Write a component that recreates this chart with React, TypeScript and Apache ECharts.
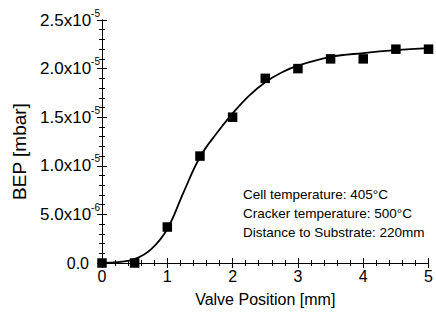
import React, { useEffect, useRef } from "react";
import * as echarts from "echarts";

const valvePositions = [0, 0.5, 1, 1.5, 2, 2.5, 3, 3.5, 4, 4.5, 5];
const bepValues = [0, 0, 3.7e-6, 1.1e-5, 1.5e-5, 1.9e-5, 2.0e-5, 2.1e-5, 2.1e-5, 2.2e-5, 2.2e-5];

const fitPositions = [0, 0.25, 0.5, 0.75, 1, 1.25, 1.5, 1.75, 2, 2.25, 2.5, 2.75, 3, 3.5, 4, 4.5, 5];
const fitValues = [0, 0.1e-6, 0.4e-6, 1.4e-6, 3.5e-6, 7.3e-6, 1.09e-5, 1.33e-5, 1.54e-5, 1.72e-5, 1.86e-5, 1.96e-5, 2.03e-5, 2.12e-5, 2.16e-5, 2.19e-5, 2.21e-5];

const yTickMantissa = ["0.0", "5.0x10", "1.0x10", "1.5x10", "2.0x10", "2.5x10"];
const yTickExponent = ["", "-6", "-5", "-5", "-5", "-5"];
const xTickLabels = ["0", "1", "2", "3", "4", "5"];

const annotationLines = [
  "Cell temperature: 405°C",
  "Cracker temperature: 500°C",
  "Distance to Substrate: 220mm",
];

const FONT = "Liberation Sans";

export default function App() {
  const ref = useRef<HTMLDivElement>(null);
  useEffect(() => {
    if (!ref.current) return;
    const chart = echarts.init(ref.current, undefined, { renderer: "svg" });
    const tickCommon = {
      axisLine: { show: true, lineStyle: { color: "#000", width: 1 } },
      axisTick: { show: true, inside: true, length: 5, lineStyle: { color: "#000" } },
      minorTick: { show: true, splitNumber: 5, length: 3, lineStyle: { color: "#000" } },
      splitLine: { show: false },
    };
    chart.setOption({
      animation: false,
      backgroundColor: "#fff",
      textStyle: { fontFamily: FONT },
      grid: { left: 102, right: 4, top: 20, bottom: 48 },
      xAxis: [
        {
          type: "value",
          min: 0,
          max: 5,
          interval: 1,
          position: "bottom",
          ...tickCommon,
          axisLabel: {
            margin: 5,
            color: "#000",
            fontSize: 16,
            fontFamily: FONT,
            formatter: (_v: number, i: number) => xTickLabels[i] ?? "",
          },
          name: "Valve Position [mm]",
          nameLocation: "middle",
          nameGap: 28,
          nameTextStyle: { color: "#000", fontSize: 16, fontFamily: FONT },
        },
        {
          type: "value",
          min: 0,
          max: 5,
          interval: 1,
          position: "top",
          ...tickCommon,
          axisLabel: { show: false },
        },
      ],
      yAxis: [
        {
          type: "value",
          min: 0,
          max: 2.5e-5,
          interval: 5e-6,
          position: "left",
          ...tickCommon,
          axisLabel: {
            margin: 2,
            color: "#000",
            fontSize: 16,
            fontFamily: FONT,
            formatter: (_v: number, i: number) => {
              const m = yTickMantissa[i] ?? "";
              const e = yTickExponent[i] ?? "";
              return e ? `{m|${m}}{s|${e}}` : `{z|${m}}`;
            },
            rich: {
              m: { fontSize: 17, lineHeight: 24, color: "#000", fontFamily: FONT },
              s: { fontSize: 10, lineHeight: 10, verticalAlign: "top", color: "#000", fontFamily: FONT },
              z: { fontSize: 16, lineHeight: 24, color: "#000", fontFamily: FONT, padding: [0, 11, 0, 0] },
            },
          },
          name: "BEP [mbar]",
          nameLocation: "middle",
          nameGap: 72,
          nameTextStyle: { color: "#000", fontSize: 19, fontFamily: FONT, padding: [0, 20, 0, 0] },
        },
        {
          type: "value",
          min: 0,
          max: 2.5e-5,
          interval: 5e-6,
          position: "right",
          ...tickCommon,
          axisLabel: { show: false },
        },
      ],
      graphic: [
        {
          type: "text",
          left: 243,
          top: 185,
          style: {
            text: annotationLines.join("\n"),
            fontSize: 13.5,
            fontFamily: FONT,
            lineHeight: 19,
            fill: "#000",
          },
        },
      ],
      series: [
        {
          type: "line",
          xAxisIndex: 0,
          yAxisIndex: 0,
          data: fitPositions.map((x, i) => [x, fitValues[i]]),
          smooth: 0.4,
          showSymbol: false,
          lineStyle: { color: "#000", width: 1.8 },
          z: 2,
        },
        {
          type: "scatter",
          xAxisIndex: 0,
          yAxisIndex: 0,
          data: valvePositions.map((x, i) => [x, bepValues[i]]),
          symbol: "rect",
          symbolSize: 9.5,
          itemStyle: { color: "#000", opacity: 1 },
          clip: false,
          z: 3,
        },
      ],
    });
    return () => chart.dispose();
  }, []);
  return (
    <div
      ref={ref}
      style={{ position: "fixed", left: 0, top: 0, width: 436, height: 312 }}
    />
  );
}
